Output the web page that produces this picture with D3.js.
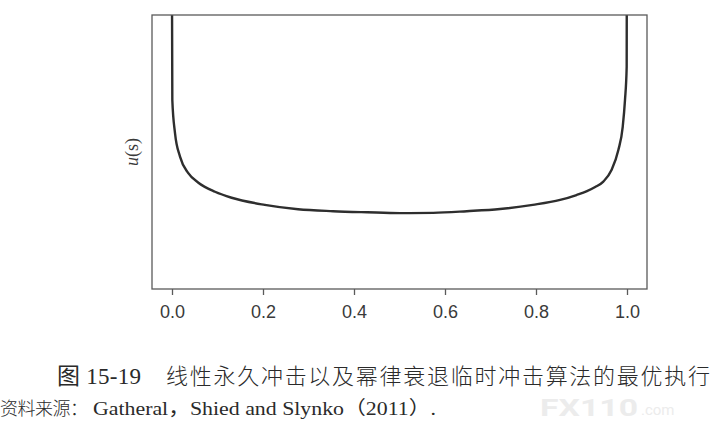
<!DOCTYPE html>
<html>
<head>
<meta charset="utf-8">
<script src="https://cdn.jsdelivr.net/npm/d3@7"></script>
<style>
  html, body { margin: 0; padding: 0; background: #ffffff; }
  svg { display: block; }
</style>
</head>
<body>
<svg id="chart" width="721" height="447"></svg>
<script>
// ---- data ----
const sValues = [0.0000, 0.0007, 0.0066, 0.0176, 0.0358, 0.058, 0.0945, 0.131, 0.204, 0.277,
                 0.354, 0.429, 0.501, 0.574, 0.648, 0.721, 0.793, 0.853, 0.889, 0.912,
                 0.930, 0.948, 0.966, 0.981, 0.9906, 0.9956, 0.9993, 0.9995];
const uValues = [1.06, 0.690, 0.569, 0.483, 0.423, 0.388, 0.355, 0.333, 0.307, 0.291,
                 0.284, 0.280, 0.277, 0.278, 0.284, 0.292, 0.307, 0.325, 0.343, 0.357,
                 0.372, 0.392, 0.434, 0.507, 0.592, 0.690, 0.811, 1.06];
const xTicks = [0.0, 0.2, 0.4, 0.6, 0.8, 1.0];
const yLabelMain = "u";
const yLabelArg = "(s)";
const captionNumber = "图 15-19";
const captionTitle = "线性永久冲击以及幂律衰退临时冲击算法的最优执行";
const sourceLabel = "资料来源：";
const sourceText = "Gatheral，Shied and Slynko（2011）.";

// ---- layout ----
const svg = d3.select("#chart");
const box = { left: 152, right: 647, top: 15, bottom: 289 };

const x = d3.scaleLinear().domain([0, 1]).range([172, 627]);
const y = d3.scaleLinear().domain([0, 1]).range([box.bottom, box.top]);

svg.append("rect").attr("width", 721).attr("height", 447).attr("fill", "#ffffff");

// watermark
const wm = svg.append("g").attr("fill", "#ececec");
wm.append("text").attr("x", 540).attr("y", 416)
  .attr("font-family", "Roboto, 'Liberation Sans', sans-serif").attr("font-weight", 700)
  .attr("font-size", 24).attr("textLength", 98).attr("lengthAdjust", "spacingAndGlyphs").text("FX110");
wm.append("text").attr("x", 641).attr("y", 415)
  .attr("font-family", "Roboto, 'Liberation Sans', sans-serif")
  .attr("font-size", 15).text(".com");

// clip
svg.append("clipPath").attr("id", "plotclip")
  .append("rect").attr("x", box.left).attr("y", box.top)
  .attr("width", box.right - box.left).attr("height", box.bottom - box.top);

// curve
const pts = sValues.map((s, i) => [s, uValues[i]]);
const line = d3.line()
  .x(d => x(d[0]))
  .y(d => y(d[1]))
  .curve(d3.curveMonotoneX);

svg.append("path")
  .attr("clip-path", "url(#plotclip)")
  .attr("d", line(pts))
  .attr("fill", "none")
  .attr("stroke", "#2e2e2e")
  .attr("stroke-width", 2.4)
  .attr("stroke-linejoin", "round");

// frame
svg.append("rect")
  .attr("x", box.left).attr("y", box.top)
  .attr("width", box.right - box.left).attr("height", box.bottom - box.top)
  .attr("fill", "none").attr("stroke", "#5a5a5a").attr("stroke-width", 1.3);

// x axis
const xAxis = d3.axisBottom(x)
  .tickValues(xTicks)
  .tickFormat(d3.format(".1f"))
  .tickSize(6)
  .tickPadding(10);

const gx = svg.append("g")
  .attr("transform", `translate(0,${box.bottom})`)
  .call(xAxis);
gx.select(".domain").remove();
gx.selectAll(".tick line").attr("stroke", "#5a5a5a").attr("stroke-width", 1.3);
gx.selectAll(".tick text")
  .attr("fill", "#3a3a3a")
  .attr("font-family", "'Liberation Sans', Arial, sans-serif")
  .attr("font-size", 18);

// y label
const yl = svg.append("text")
  .attr("transform", `translate(138,${(box.top + box.bottom) / 2}) rotate(-90)`)
  .attr("text-anchor", "middle")
  .attr("fill", "#3a3a3a")
  .attr("font-family", "'Liberation Serif', 'DejaVu Serif', serif")
  .attr("font-size", 18);
yl.append("tspan").attr("font-style", "italic").text(yLabelMain);
yl.append("tspan").text(yLabelArg);

// caption
const cap = svg.append("g").attr("fill", "#2a2a2a");
cap.append("text")
  .attr("x", 57).attr("y", 384)
  .attr("font-family", "'Liberation Serif', 'Noto Sans CJK SC', serif")
  .attr("font-size", 23)
  .attr("textLength", 84).attr("lengthAdjust", "spacing")
  .text(captionNumber);
cap.append("text")
  .attr("x", 166).attr("y", 384)
  .attr("font-family", "'Noto Sans CJK SC', sans-serif")
  .attr("font-weight", 300)
  .attr("font-size", 22)
  .attr("textLength", 544).attr("lengthAdjust", "spacing")
  .text(captionTitle);

cap.append("text")
  .attr("x", 0).attr("y", 415)
  .attr("font-family", "'Noto Sans CJK SC', sans-serif")
  .attr("font-weight", 300)
  .attr("font-size", 18)
  .attr("textLength", 88).attr("lengthAdjust", "spacing")
  .text(sourceLabel);
cap.append("text")
  .attr("x", 93).attr("y", 415)
  .attr("font-family", "'Liberation Serif', 'Noto Sans CJK SC', serif")
  .attr("font-size", 19)
  .attr("textLength", 343).attr("lengthAdjust", "spacingAndGlyphs")
  .text(sourceText);
</script>
</body>
</html>
